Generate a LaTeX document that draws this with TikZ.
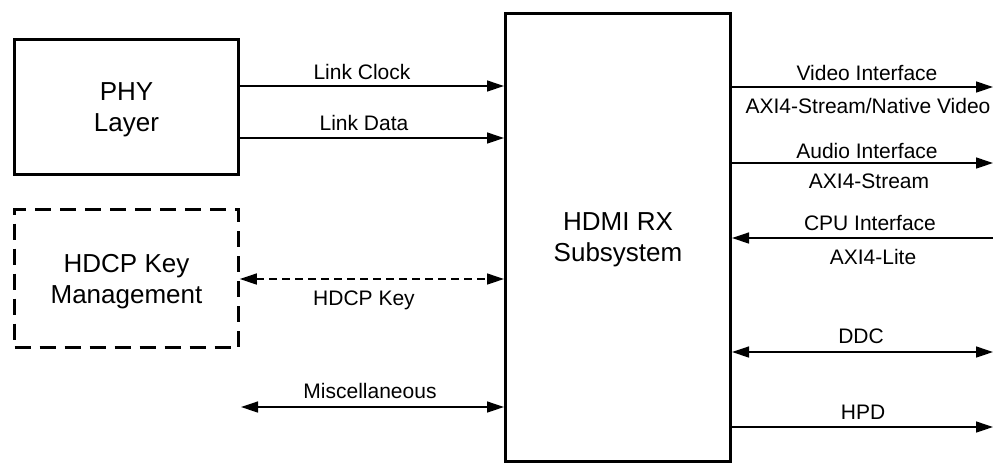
\documentclass[tikz,border=0pt]{standalone}
\usepackage{fontspec}
\setmainfont{Liberation Sans}
\usetikzlibrary{arrows.meta}
\tikzset{mytip/.tip={Triangle[length=17pt,width=11pt]}}
\begin{document}
\begin{tikzpicture}[x=1pt,y=-1pt,
 blk/.style={draw=black, line width=3pt, rectangle, inner sep=0pt, align=center,
   font=\fontsize{26}{31}\selectfont, text depth=0pt},
 dblk/.style={blk, line width=2.5pt, dash pattern=on 16pt off 9pt},
 arr/.style={draw=black, line width=1.3pt, -mytip},
 barr/.style={draw=black, line width=1.3pt, mytip-mytip},
 lbl/.style={font=\fontsize{21}{25}\selectfont, anchor=base, inner sep=0pt}]
\useasboundingbox (0,0) rectangle (993,464);

% blocks
\node[blk, minimum width=224pt, minimum height=135pt] (phy) at (126.5,107) {PHY\\Layer};
\node[dblk, minimum width=224pt, minimum height=138pt] (hdcp) at (126.5,278.5) {HDCP Key\\Management};
\node[blk, minimum width=225pt, minimum height=448pt] (rx) at (618,237.5) {HDMI RX\\Subsystem};

% free ends
\coordinate (misc) at (241,407);
\coordinate (vid) at (993,87);
\coordinate (aud) at (993,163);
\coordinate (cpu) at (993,238);
\coordinate (ddc) at (993,352);
\coordinate (hpd) at (993,427);

% left connectors
\draw[arr] (phy.east |- 0,86) -- (rx.west |- 0,86);
\draw[arr] (phy.east |- 0,138) -- (rx.west |- 0,138);
\draw[barr, dash pattern=on 8pt off 5pt] (hdcp.east |- 0,279) -- (rx.west |- 0,279);
\draw[barr] (misc) -- (rx.west |- misc);

% right connectors
\draw[arr] (rx.east |- vid) -- (vid);
\draw[arr] (rx.east |- aud) -- (aud);
\draw[arr] (cpu) -- (rx.east |- cpu);
\draw[barr] (rx.east |- ddc) -- (ddc);
\draw[arr] (rx.east |- hpd) -- (hpd);

% labels
\node[lbl] (lclk) at (362,79) {Link Clock};
\node[lbl] (ldat) at (364,130) {Link Data};
\node[lbl] (lkey) at (364,305) {HDCP Key};
\node[lbl] (lmisc) at (370,398) {Miscellaneous};
\node[lbl] (lvid) at (867,80) {Video Interface};
\node[lbl] (lvid2) at (868,113) {AXI4-Stream/Native Video};
\node[lbl] (laud) at (867,158) {Audio Interface};
\node[lbl] (laud2) at (869,188) {AXI4-Stream};
\node[lbl] (lcpu) at (870,230) {CPU Interface};
\node[lbl] (lcpu2) at (873,264) {AXI4-Lite};
\node[lbl] (lddc) at (861,343) {DDC};
\node[lbl] (lhpd) at (863,419) {HPD};
\end{tikzpicture}
\end{document}
